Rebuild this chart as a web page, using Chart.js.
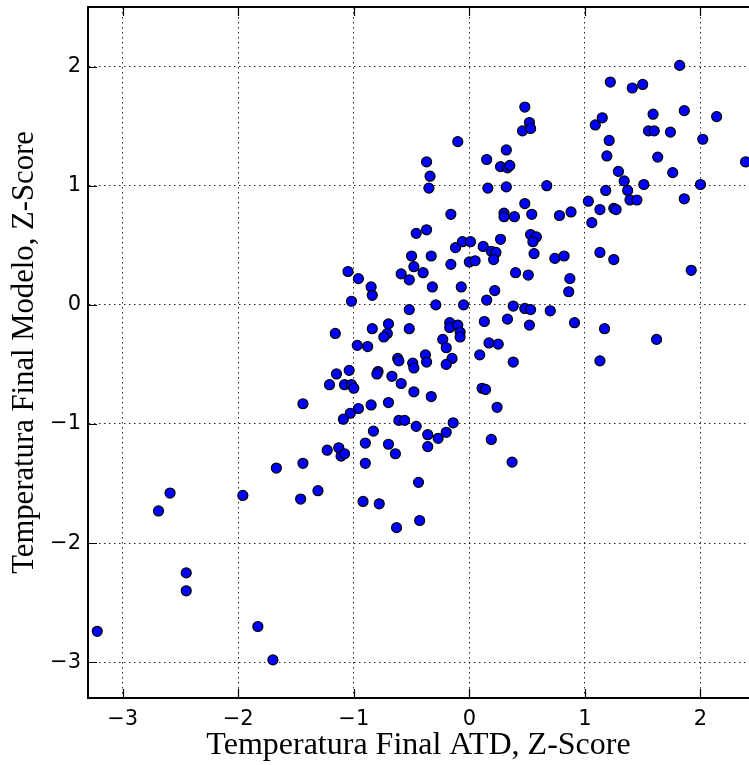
<!DOCTYPE html>
<html>
<head>
<meta charset="utf-8">
<script src="https://cdn.jsdelivr.net/npm/chart.js@4"></script>
<style>
  body { margin: 0; background: #fff; }
  #contenedor { width: 749px; height: 765px; position: relative; }
</style>
</head>
<body>
<div id="contenedor"><canvas id="grafico"></canvas></div>
<script>
// Z-score ATD (eje x) y Z-score modelo (eje y)
let atdZ = [
  -3.22, -2.69, -2.59, -2.45, -2.45, -1.96, -1.83, -1.70, -1.67, -1.44, -1.44, -1.46, -1.31,
  -1.21, -1.15, -1.04, -1.08, -1.02, -1.00, -0.79, -0.80, -0.67, -0.59, -0.62, -0.61, -0.49, -0.48, -0.48,
  -0.96, -1.03, -1.09, -0.85, -0.70, -0.61, -0.56, -0.46, -0.83, -0.90, -0.70, -0.64, -1.23, -1.13, -1.11,
  -1.08, -0.90, -0.92, -0.78, -0.63, -0.44, -0.43,
  -0.46, -0.50, -0.48, -0.59, -0.52, -0.40, -1.05, -0.96, -0.85, -0.84, -1.02, -0.52, -1.16, -0.84, -0.70,
  -0.71, -0.74, -0.52, -0.97, -0.88,
  -0.10, -0.37, -0.34, -0.35, -0.16, -0.37, -0.12, -0.06, 0.01, -0.33, -0.16, 0.00, 0.05, -0.32, -0.07,
  -0.29, -0.05, -0.17, -0.17, -0.10, -0.08, -0.08, -0.23, -0.20, -0.38, -0.37, -0.15, -0.20, -0.33, -0.36,
  -0.36, -0.27, -0.20, -0.14,
  0.48, 0.52, 0.46, 0.53, 1.09, 1.15, 1.21, 1.19, 0.32, 0.15, 0.27, 0.33, 0.35, 0.16, 0.32, 0.67, 1.18,
  0.48, 1.03, 1.13, 1.25, 0.30, 0.30, 0.39, 0.54, 0.78, 0.88, 1.06, 0.53, 0.58, 0.55, 0.27, 0.12, 0.19,
  0.23, 0.21, 0.56, 0.74, 0.82, 1.13, 1.25, 0.40, 0.51, 0.87, 0.86, 0.22, 0.15, 0.38, 0.48, 0.53, 0.70,
  0.13, 0.33,
  0.52, 0.91, 1.17, 0.17, 0.25, 0.09, 0.38, 1.13, 0.11, 0.14, 0.24, 0.19, 0.37,
  1.82, 1.22, 1.41, 1.50, 1.86, 1.59, 2.14, 1.55, 1.60, 1.74, 2.02, 1.63, 2.39, 1.29, 1.76, 1.34, 1.51,
  2.00, 1.37, 1.39, 1.45, 1.86, 1.27, 1.92, 1.62,
];
let modeloZ = [
  -2.74, -1.73, -1.58, -2.25, -2.40, -1.60, -2.70, -2.98, -1.37, -0.83, -1.33, -1.63, -1.56,
  -0.67, -0.58, -0.55, -0.67, -0.67, -0.70, -0.56, -0.58, -0.60, -0.66, -0.45, -0.47, -0.49, -0.53, -0.73,
  -0.87, -0.91, -0.96, -0.84, -0.82, -0.97, -0.97, -1.02, -1.06, -1.16, -1.17, -1.25, -1.22, -1.20, -1.27,
  -1.25, -1.33, -1.65, -1.67, -1.87, -1.49, -1.81,
  0.60, 0.41, 0.32, 0.26, 0.21, 0.27, 0.28, 0.22, 0.15, 0.08, 0.03, -0.04, -0.24, -0.20, -0.16,
  -0.24, -0.27, -0.20, -0.34, -0.35,
  1.37, 1.20, 1.08, 0.98, 0.76, 0.63, 0.48, 0.53, 0.53, 0.41, 0.34, 0.36, 0.37, 0.15, 0.15,
  0.00, 0.00, -0.15, -0.19, -0.17, -0.23, -0.27, -0.29, -0.36, -0.42, -0.48, -0.45, -0.50, -0.77, -1.09,
  -1.19, -1.12, -1.07, -0.99,
  1.66, 1.53, 1.46, 1.48, 1.51, 1.57, 1.38, 1.25, 1.30, 1.22, 1.16, 1.15, 1.17, 0.98, 0.99, 1.00, 0.96,
  0.85, 0.87, 0.80, 0.81, 0.77, 0.74, 0.74, 0.76, 0.75, 0.78, 0.69, 0.59, 0.57, 0.53, 0.55, 0.49, 0.45,
  0.44, 0.38, 0.43, 0.39, 0.41, 0.44, 0.38, 0.27, 0.25, 0.22, 0.11, 0.12, 0.04, -0.01, -0.03, -0.04, -0.05,
  -0.14, -0.12,
  -0.17, -0.15, -0.20, -0.32, -0.33, -0.42, -0.48, -0.47, -0.70, -0.71, -0.86, -1.13, -1.32,
  2.01, 1.87, 1.82, 1.85, 1.63, 1.60, 1.58, 1.46, 1.46, 1.45, 1.39, 1.24, 1.20, 1.12, 1.11, 1.04, 1.01,
  1.01, 0.96, 0.88, 0.88, 0.89, 0.80, 0.29, -0.29,
];
let xTicks = [-3, -2, -1, 0, 1, 2];
let yTicks = [-3, -2, -1, 0, 1, 2];
let xRango = [-3.3, 2.42];
let yRango = [-3.3, 2.5];
let tituloX = "Temperatura Final ATD, Z-Score";
let tituloY = "Temperatura Final Modelo, Z-Score";

let puntos = atdZ.map(function (x, i) {
  return { x: x, y: modeloZ[i] };
});

function etiqueta(v) {
  return String(v).replace("-", "\u2212");
}

function sinRelleno(scale) {
  scale.paddingTop = 0;
  scale.paddingBottom = 0;
  scale.paddingLeft = 0;
  scale.paddingRight = 0;
}

// marco superior y ticks hacia dentro, estilo matplotlib clasico
const marco = {
  id: "marco",
  beforeDatasetsDraw(chart) {
    let ctx = chart.ctx;
    let a = chart.chartArea;
    let sx = chart.scales.x;
    let sy = chart.scales.y;
    ctx.save();
    ctx.strokeStyle = "#000";
    ctx.lineWidth = 1.2;
    ctx.beginPath();
    sx.ticks.forEach(function (t) {
      let px = Math.round(sx.getPixelForValue(t.value)) + 0.5;
      ctx.moveTo(px, a.bottom);
      ctx.lineTo(px, a.bottom - 9);
      ctx.moveTo(px, a.top);
      ctx.lineTo(px, a.top + 9);
    });
    sy.ticks.forEach(function (t) {
      let py = Math.round(sy.getPixelForValue(t.value)) + 0.5;
      ctx.moveTo(a.left, py);
      ctx.lineTo(a.left + 9, py);
    });
    ctx.stroke();
    ctx.lineWidth = 2;
    ctx.beginPath();
    ctx.moveTo(a.left, a.top);
    ctx.lineTo(a.right, a.top);
    ctx.stroke();
    ctx.restore();
  },
};

let fuenteTicks = { family: "DejaVu Sans", size: 21 };

new Chart(document.getElementById("grafico"), {
  type: "scatter",
  data: {
    datasets: [
      {
        data: puntos,
        backgroundColor: "#0000ff",
        borderColor: "#000000",
        borderWidth: 1.2,
        pointRadius: 5,
        pointHoverRadius: 5,
      },
    ],
  },
  options: {
    responsive: true,
    maintainAspectRatio: false,
    animation: false,
    layout: { autoPadding: false, padding: { top: 7, right: 0, left: 0, bottom: 0 } },
    plugins: {
      legend: { display: false },
      tooltip: { enabled: false },
    },
    scales: {
      x: {
        type: "linear",
        min: xRango[0],
        max: xRango[1],
        afterBuildTicks: function (axis) {
          axis.ticks = xTicks.map(function (v) {
            return { value: v };
          });
        },
        afterFit: function (scale) {
          scale.height = 67;
          sinRelleno(scale);
        },
        grid: { color: "rgba(0,0,0,0.85)", lineWidth: 1, drawTicks: false },
        border: { display: true, color: "#000", width: 2, dash: [1.5, 3.5] },
        ticks: {
          color: "#000",
          font: fuenteTicks,
          padding: 9,
          maxRotation: 0,
          callback: etiqueta,
        },
        title: {
          display: true,
          text: tituloX,
          color: "#000",
          font: { family: "Liberation Serif", size: 32 },
          padding: { top: 0, bottom: 0 },
        },
      },
      y: {
        type: "linear",
        min: yRango[0],
        max: yRango[1],
        afterBuildTicks: function (axis) {
          axis.ticks = yTicks.map(function (v) {
            return { value: v };
          });
        },
        afterFit: function (scale) {
          scale.width = 88;
          sinRelleno(scale);
        },
        grid: { color: "rgba(0,0,0,0.85)", lineWidth: 1, drawTicks: false },
        border: { display: true, color: "#000", width: 2, dash: [1.5, 3.5] },
        ticks: {
          color: "#000",
          font: fuenteTicks,
          padding: 7,
          callback: etiqueta,
        },
        title: {
          display: true,
          text: tituloY,
          color: "#000",
          font: { family: "Liberation Serif", size: 30.7 },
          padding: { top: 7, bottom: 0 },
        },
      },
    },
  },
  plugins: [marco],
});
</script>
</body>
</html>
